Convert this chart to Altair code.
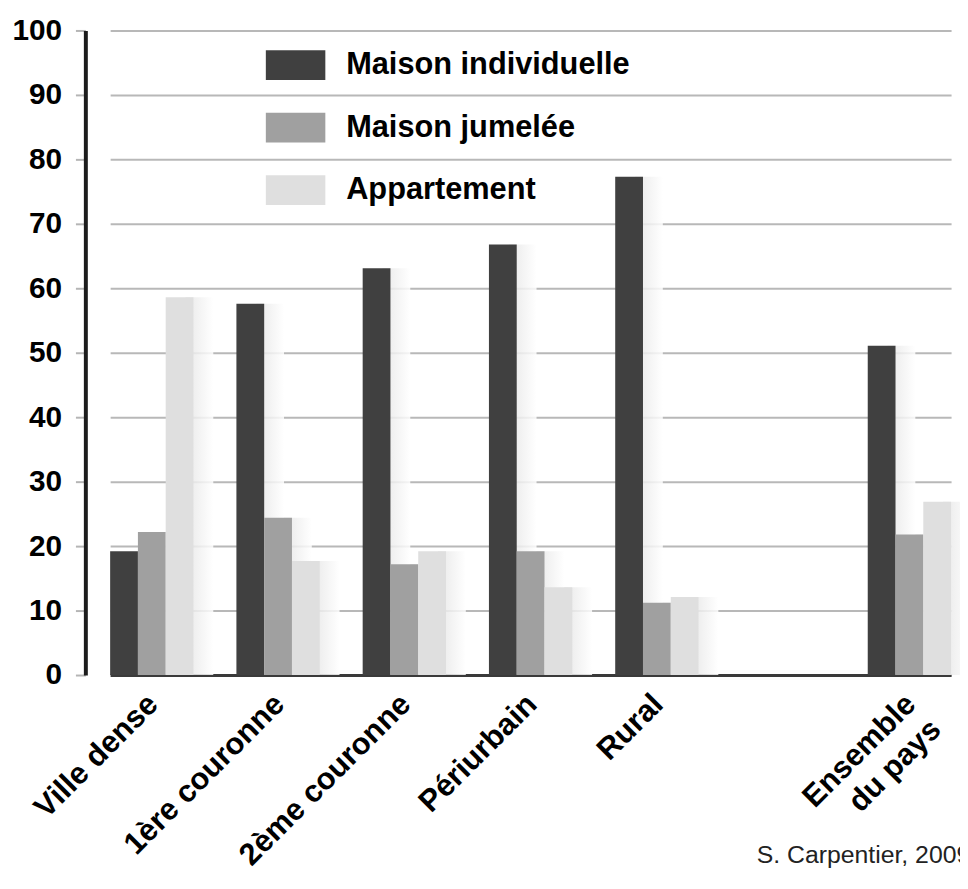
import altair as alt
import pandas as pd

# ---- data ----
categories = ["Ville dense", "1ère couronne", "2ème couronne", "Périurbain", "Rural", "Ensemble\ndu pays"]
x_domain = ["Ville dense", "1ère couronne", "2ème couronne", "Périurbain", "Rural", " ", "Ensemble\ndu pays"]
series = ["Maison individuelle", "Maison jumelée", "Appartement"]
maison_individuelle = [19.2, 57.6, 63.1, 66.8, 77.3, 51.1]
maison_jumelee = [22.2, 24.4, 17.2, 19.2, 11.2, 21.8]
appartement = [58.6, 17.7, 19.2, 13.6, 12.1, 26.9]
colors = ["#404040", "#a0a0a0", "#dfdfdf"]
y_ticks = list(range(0, 101, 10))
source_text = ["S. Carpentier, 2009"]

rows = []
for s, vals in zip(series, [maison_individuelle, maison_jumelee, appartement]):
    for c, v in zip(categories, vals):
        rows.append({"categorie": c, "type": s, "valeur": v})
df = pd.DataFrame(rows)

FONT = "Liberation Sans"

x_enc = alt.X(
    "categorie:N",
    sort=x_domain,
    scale=alt.Scale(domain=x_domain, range=[25, 873], paddingInner=0.34, paddingOuter=0),
    axis=alt.Axis(
        title=None,
        domainColor="#3a3a3a",
        domainWidth=3,
        ticks=False,
        tickSize=0,
        grid=False,
        labelAngle=315,
        labelAlign="right",
        labelBaseline="top",
        labelPadding=14,
        labelOffset=-9,
        labelFont=FONT,
        labelFontSize=31,
        labelFontWeight="bold",
        labelColor="black",
        labelLimit=1000,
        labelOverlap=False,
        labelLineHeight=36,
        labelExpr="split(datum.value, '\\n')",
    ),
)

y_enc = alt.Y(
    "valeur:Q",
    scale=alt.Scale(domain=[0, 100], nice=False),
    axis=alt.Axis(
        title=None,
        values=y_ticks,
        labelFont=FONT,
        labelFontSize=30,
        labelFontWeight="bold",
        labelColor="black",
        labelPadding=14,
        tickSize=10,
        tickColor="#b5b5b5",
        tickWidth=2,
        gridColor="#b8b8b8",
        gridWidth=2,
        domainColor="#1c1c1c",
        domainWidth=4,
    ),
)

xoff_bars = alt.XOffset("type:N", sort=series,
                        scale=alt.Scale(domain=series, paddingInner=0, paddingOuter=0))
xoff_shadow = alt.XOffset("type:N", sort=series,
                          scale=alt.Scale(domain=series, range=[20, 104],
                                          paddingInner=0, paddingOuter=0))

shadow_fill = alt.Gradient(
    gradient="linear",
    stops=[alt.GradientStop(color="#e4e4e4", offset=0),
           alt.GradientStop(color="#ffffff", offset=1)],
    x1=0, x2=1, y1=0, y2=0,
)

shadow = alt.Chart(df).mark_bar(fill=shadow_fill, opacity=0.85).encode(
    x=x_enc, xOffset=xoff_shadow, y=y_enc
)

bars = alt.Chart(df).mark_bar().encode(
    x=x_enc,
    xOffset=xoff_bars,
    y=y_enc,
    color=alt.Color(
        "type:N",
        sort=series,
        scale=alt.Scale(domain=series, range=colors),
        legend=alt.Legend(
            title=None,
            orient="none",
            legendX=182,
            legendY=5,
            padding=0,
            symbolType="M-1,-0.5H1V0.5H-1Z",
            symbolSize=3600,
            symbolStrokeWidth=0,
            symbolOpacity=1,
            labelFont=FONT,
            labelFontSize=31,
            labelFontWeight="bold",
            labelColor="black",
            labelOffset=21,
            labelLimit=1000,
            rowPadding=18,
        ),
    ),
)

source = alt.Chart(pd.DataFrame({"t": source_text})).mark_text(
    align="left", baseline="alphabetic", font=FONT, fontSize=25, color="#222222"
).encode(text="t:N", x=alt.value(677), y=alt.value(840))

chart = (
    alt.layer(shadow, bars, source)
    .resolve_scale(xOffset="independent")
    .properties(
        width=882,
        height=650,
        padding={"left": 78, "top": 19, "right": 0, "bottom": 197},
        autosize=alt.AutoSizeParams(type="none"),
        background="white",
    )
    .configure_view(stroke=None)
)

chart.save("out.html", embed_options={"renderer": "svg", "actions": False})
